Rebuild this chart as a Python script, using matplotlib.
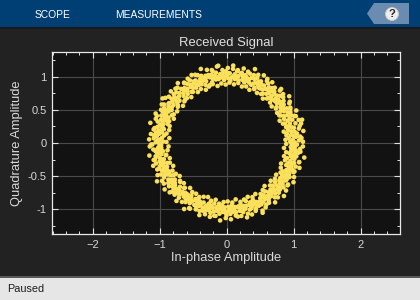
import numpy as np
import matplotlib
matplotlib.use("Agg")
import matplotlib.pyplot as plt
from matplotlib.patches import Rectangle, Polygon, Ellipse
from matplotlib.ticker import MultipleLocator

# ---- data (phase in degrees, magnitude) ----
# core of the ring
phase_deg = [
0.4, 1.3, 2.1, 2.8, 3.9, 4.6, 5.2, 6.3, 7.1, 7.8, 8.9, 9.5,
10.2, 11.4, 12.0, 12.9, 13.6, 14.8, 15.3, 16.1, 17.2, 17.9, 18.5, 19.7,
20.3, 21.2, 22.0, 22.9, 23.5, 24.6, 25.4, 26.1, 26.8, 27.9, 28.4, 29.3,
30.1, 31.0, 31.8, 32.5, 33.6, 34.2, 35.1, 35.9, 36.7, 37.4, 38.5, 39.2,
40.0, 40.9, 41.6, 42.4, 43.3, 44.0, 44.8, 45.7, 46.5, 47.3, 48.1, 49.0,
49.8, 50.6, 51.3, 52.2, 53.0, 53.9, 54.5, 55.4, 56.3, 57.1, 57.8, 58.7,
59.5, 60.2, 61.1, 61.9, 62.6, 63.5, 64.3, 65.0, 65.9, 66.7, 67.4, 68.3,
69.1, 69.8, 70.7, 71.5, 72.2, 73.1, 73.9, 74.6, 75.5, 76.2, 77.0, 77.9,
78.6, 79.4, 80.3, 81.0, 81.8, 82.7, 83.4, 84.2, 85.1, 85.8, 86.6, 87.5,
88.2, 89.0, 89.9, 90.6, 91.4, 92.3, 93.0, 93.8, 94.7, 95.4, 96.2, 97.1,
97.8, 98.6, 99.5, 100.2, 101.0, 101.9, 102.6, 103.4, 104.3, 105.0, 105.8, 106.7,
107.4, 108.2, 109.1, 109.8, 110.6, 111.5, 112.2, 113.0, 113.9, 114.6, 115.4, 116.3,
117.0, 117.8, 118.7, 119.4, 120.2, 121.1, 121.8, 122.6, 123.5, 124.2, 125.0, 125.9,
126.6, 127.4, 128.3, 129.0, 129.8, 130.7, 131.4, 132.2, 133.1, 133.8, 134.6, 135.5,
136.2, 137.0, 137.9, 138.6, 139.4, 140.3, 141.0, 141.8, 142.7, 143.4, 144.2, 145.1,
145.8, 146.6, 147.5, 148.2, 149.0, 149.9, 150.6, 151.4, 152.3, 153.0, 153.8, 154.7,
155.4, 156.2, 157.1, 157.8, 158.6, 159.5, 160.2, 161.0, 161.9, 162.6, 163.4, 164.3,
165.0, 165.8, 166.7, 167.4, 168.2, 169.1, 169.8, 170.6, 171.5, 172.2, 173.0, 173.9,
174.6, 175.4, 176.3, 177.0, 177.8, 178.7, 179.4, 180.2, 181.1, 181.8, 182.6, 183.5,
184.2, 185.0, 185.9, 186.6, 187.4, 188.3, 189.0, 189.8, 190.7, 191.4, 192.2, 193.1,
193.8, 194.6, 195.5, 196.2, 197.0, 197.9, 198.6, 199.4, 200.3, 201.0, 201.8, 202.7,
203.4, 204.2, 205.1, 205.8, 206.6, 207.5, 208.2, 209.0, 209.9, 210.6, 211.4, 212.3,
213.0, 213.8, 214.7, 215.4, 216.2, 217.1, 217.8, 218.6, 219.5, 220.2, 221.0, 221.9,
222.6, 223.4, 224.3, 225.0, 225.8, 226.7, 227.4, 228.2, 229.1, 229.8, 230.6, 231.5,
232.2, 233.0, 233.9, 234.6, 235.4, 236.3, 237.0, 237.8, 238.7, 239.4, 240.2, 241.1,
241.8, 242.6, 243.5, 244.2, 245.0, 245.9, 246.6, 247.4, 248.3, 249.0, 249.8, 250.7,
251.4, 252.2, 253.1, 253.8, 254.6, 255.5, 256.2, 257.0, 257.9, 258.6, 259.4, 260.3,
261.0, 261.8, 262.7, 263.4, 264.2, 265.1, 265.8, 266.6, 267.5, 268.2, 269.0, 269.9,
270.6, 271.4, 272.3, 273.0, 273.8, 274.7, 275.4, 276.2, 277.1, 277.8, 278.6, 279.5,
280.2, 281.0, 281.9, 282.6, 283.4, 284.3, 285.0, 285.8, 286.7, 287.4, 288.2, 289.1,
289.8, 290.6, 291.5, 292.2, 293.0, 293.9, 294.6, 295.4, 296.3, 297.0, 297.8, 298.7,
299.4, 300.2, 301.1, 301.8, 302.6, 303.5, 304.2, 305.0, 305.9, 306.6, 307.4, 308.3,
309.0, 309.8, 310.7, 311.4, 312.2, 313.1, 313.8, 314.6, 315.5, 316.2, 317.0, 317.9,
318.6, 319.4, 320.3, 321.0, 321.8, 322.7, 323.4, 324.2, 325.1, 325.8, 326.6, 327.5,
328.2, 329.0, 329.9, 330.6, 331.4, 332.3, 333.0, 333.8, 334.7, 335.4, 336.2, 337.1,
337.8, 338.6, 339.5, 340.2, 341.0, 341.9, 342.6, 343.4, 344.3, 345.0, 345.8, 346.7,
347.4, 348.2, 349.1, 349.8, 350.6, 351.5, 352.2, 353.0, 353.9, 354.6, 355.4, 356.3,
357.0, 357.8, 358.7, 359.4]

magnitude = [
1.02, 0.95, 1.08, 0.99, 1.12, 0.93, 1.04, 1.00, 0.97, 1.06, 0.91, 1.03,
0.98, 1.10, 0.94, 1.03, 1.00, 1.15, 0.96, 1.07, 0.99, 1.13, 0.92, 1.04,
0.97, 1.01, 1.09, 0.93, 1.05, 1.00, 0.95, 1.06, 1.02, 0.89, 1.08, 0.98,
1.04, 0.94, 1.00, 1.11, 0.97, 1.03, 0.99, 0.92, 1.06, 1.01, 0.96, 1.09,
1.01, 0.96, 1.07, 0.99, 1.04, 0.94, 1.12, 1.02, 0.97, 1.05, 0.90, 1.03,
0.98, 1.07, 0.95, 1.01, 1.05, 0.92, 1.00, 1.09, 0.97, 1.03, 1.14, 0.96,
1.02, 0.96, 1.06, 0.99, 1.04, 0.93, 1.01, 1.08, 0.98, 1.05, 0.95, 1.10,
1.05, 0.97, 1.02, 1.10, 0.99, 1.03, 0.95, 1.06, 1.01, 0.98, 1.04, 1.08,
1.07, 0.96, 1.02, 1.00, 1.09, 0.97, 1.04, 1.01, 1.12, 0.99, 0.94, 1.05,
1.05, 0.98, 1.03, 1.08, 1.00, 0.95, 1.06, 1.02, 0.99, 1.04, 1.17, 0.97,
1.00, 1.07, 0.97, 1.03, 1.10, 0.99, 1.05, 0.94, 1.02, 1.06, 0.91, 1.04,
1.06, 0.98, 1.03, 0.93, 1.08, 1.00, 1.04, 0.96, 1.01, 1.13, 0.97, 1.05,
0.99, 1.05, 0.95, 1.02, 1.09, 0.97, 1.03, 1.00, 1.07, 0.93, 1.11, 1.01,
0.98, 1.04, 0.94, 1.01, 1.06, 0.99, 1.11, 0.96, 1.03, 0.90, 1.07, 1.00,
1.00, 1.08, 0.95, 1.04, 1.01, 0.97, 1.06, 0.93, 1.02, 1.14, 0.98, 1.05,
1.05, 0.98, 1.03, 1.10, 0.96, 1.01, 1.07, 0.99, 1.04, 0.92, 1.06, 1.00,
1.02, 0.95, 1.06, 1.00, 1.12, 0.97, 1.04, 1.01, 0.93, 1.08, 0.99, 1.03,
1.03, 0.99, 1.06, 0.96, 1.10, 1.01, 1.04, 0.98, 1.07, 1.02, 0.94, 1.09,
1.05, 0.97, 1.09, 1.00, 1.03, 0.95, 1.06, 1.01, 1.11, 0.98, 1.15, 1.02,
0.98, 1.04, 1.00, 1.07, 0.96, 1.02, 1.05, 0.99, 1.08, 0.93, 1.03, 1.10,
1.01, 0.97, 1.04, 1.10, 0.99, 1.03, 0.94, 1.06, 1.00, 1.08, 0.96, 1.02,
1.05, 0.98, 1.02, 1.09, 0.96, 1.04, 1.00, 1.07, 0.97, 1.12, 0.93, 1.03,
1.03, 0.99, 1.06, 0.95, 1.01, 1.08, 0.98, 1.04, 1.00, 0.91, 1.05, 1.10,
1.02, 0.96, 1.07, 1.00, 1.04, 0.93, 1.05, 0.99, 1.09, 1.01, 0.97, 1.03,
1.01, 0.97, 1.04, 1.00, 1.08, 0.95, 1.03, 0.99, 1.06, 1.02, 1.13, 0.96,
0.98, 1.05, 0.94, 1.01, 1.07, 0.97, 1.03, 1.00, 1.10, 0.96, 1.04, 1.08,
1.02, 0.99, 1.06, 0.95, 1.01, 1.04, 0.97, 1.08, 1.00, 0.93, 1.05, 1.11,
0.98, 1.03, 0.96, 1.01, 1.07, 0.99, 0.94, 1.04, 1.00, 0.97, 1.05, 1.09,
1.03, 0.96, 1.01, 1.07, 0.99, 0.94, 1.04, 1.00, 0.97, 1.05, 1.12, 0.98,
0.97, 1.04, 1.00, 0.95, 1.07, 1.01, 0.98, 1.03, 1.11, 0.99, 0.92, 1.06,
0.99, 1.05, 0.96, 1.02, 1.00, 1.08, 0.94, 1.03, 0.99, 1.06, 1.15, 1.01,
1.06, 1.01, 0.97, 1.04, 1.10, 0.98, 1.02, 0.95, 1.07, 1.00, 1.04, 0.93,
1.00, 1.04, 0.97, 1.09, 1.01, 0.96, 1.05, 1.02, 0.99, 1.08, 0.94, 1.03,
1.06, 0.98, 1.03, 0.93, 1.08, 1.00, 1.04, 0.97, 1.02, 1.11, 0.96, 1.05,
0.99, 1.05, 0.96, 1.02, 1.07, 1.00, 0.94, 1.04, 1.01, 0.98, 1.09, 1.03,
1.06, 1.00, 0.95, 1.03, 1.09, 0.97, 1.02, 1.05, 0.99, 1.12, 0.93, 1.04,
1.01, 0.98, 1.06, 1.00, 0.95, 1.03, 1.08, 0.97, 1.04, 1.00, 1.10, 0.96,
1.02, 0.99, 1.05, 0.97]

# scattered points on the inner and outer edges of the ring
phase_edge_deg = [
1.0, 3.2, 5.1, 7.4, 9.0, 11.3, 13.2, 15.0, 17.3, 19.1, 21.4, 23.0, 25.2, 27.1, 29.3, 31.0, 33.4, 35.2, 37.0, 39.3,
41.1, 43.2, 45.0, 47.4, 49.2, 51.0, 53.3, 55.1, 57.2, 59.0, 61.4, 63.1, 65.3, 67.0, 69.2, 71.1, 73.4, 75.0, 77.2, 79.1,
81.3, 83.0, 85.2, 87.4, 89.1, 91.0, 93.3, 95.1, 97.2, 99.0, 101.4, 103.2, 105.0, 107.3, 109.1, 111.2, 113.0, 115.4, 117.1, 119.3,
121.0, 123.2, 125.1, 127.4, 129.0, 131.3, 133.1, 135.2, 137.0, 139.4, 141.1, 143.3, 145.0, 147.2, 149.1, 151.4, 153.0, 155.2, 157.3, 159.1,
161.0, 163.3, 165.1, 167.2, 169.4, 171.0, 173.2, 175.1, 177.3, 179.0, 181.2, 183.4, 185.1, 187.0, 189.3, 191.1, 193.2, 195.0, 197.4, 199.2,
201.0, 203.3, 205.1, 207.2, 209.0, 211.4, 213.1, 215.3, 217.0, 219.2, 221.1, 223.4, 225.0, 227.2, 229.3, 231.1, 233.0, 235.2, 237.4, 239.1,
241.0, 243.3, 245.2, 247.0, 249.4, 251.1, 253.2, 255.0, 257.3, 259.1, 261.4, 263.0, 265.2, 267.1, 269.3, 271.0, 273.2, 275.4, 277.1, 279.0,
281.3, 283.1, 285.2, 287.0, 289.4, 291.2, 293.0, 295.3, 297.1, 299.2, 301.0, 303.4, 305.1, 307.3, 309.0, 311.2, 313.1, 315.4, 317.0, 319.2,
321.1, 323.3, 325.0, 327.2, 329.4, 331.1, 333.0, 335.3, 337.1, 339.2, 341.0, 343.4, 345.2, 347.0, 349.3, 351.1, 353.2, 355.0, 357.4, 359.1]

magnitude_edge = [
1.14, 0.88, 1.10, 0.90, 1.16, 0.87, 1.12, 0.92, 1.18, 0.89, 1.11, 0.86, 1.15, 0.91, 1.09, 0.88, 1.13, 0.90, 1.17, 0.87,
1.12, 0.89, 1.15, 0.92, 1.10, 0.86, 1.14, 0.90, 1.11, 0.88, 1.16, 0.91, 1.13, 0.87, 1.19, 0.90, 1.12, 0.88, 1.15, 0.92,
1.11, 0.89, 1.17, 0.91, 1.13, 0.88, 1.10, 0.90, 1.16, 0.87, 1.12, 0.91, 1.14, 0.89, 1.18, 0.86, 1.11, 0.90, 1.15, 0.88,
1.13, 0.92, 1.10, 0.87, 1.16, 0.90, 1.12, 0.89, 1.14, 0.86, 1.11, 0.91, 1.17, 0.88, 1.13, 0.90, 1.10, 0.87, 1.15, 0.92,
1.12, 0.89, 1.18, 0.88, 1.11, 0.91, 1.14, 0.86, 1.16, 0.90, 1.13, 0.87, 1.10, 0.89, 1.17, 0.92, 1.12, 0.88, 1.15, 0.90,
1.11, 0.87, 1.14, 0.91, 1.19, 0.89, 1.12, 0.86, 1.16, 0.90, 1.13, 0.88, 1.10, 0.92, 1.15, 0.87, 1.11, 0.90, 1.18, 0.89,
1.13, 0.91, 1.10, 0.88, 1.16, 0.86, 1.12, 0.90, 1.14, 0.87, 1.11, 0.92, 1.17, 0.89, 1.13, 0.88, 1.15, 0.90, 1.10, 0.86,
1.12, 0.91, 1.16, 0.89, 1.14, 0.87, 1.11, 0.90, 1.18, 0.88, 1.13, 0.92, 1.10, 0.89, 1.15, 0.86, 1.12, 0.91, 1.17, 0.87,
1.14, 0.90, 1.11, 0.88, 1.16, 0.92, 1.13, 0.89, 1.10, 0.87, 1.15, 0.91, 1.12, 0.88, 1.18, 0.90, 1.11, 0.86, 1.14, 0.89]

title_text = "Received Signal"
xlabel_text = "In-phase Amplitude"
ylabel_text = "Quadrature Amplitude"
xticks = [-2, -1, 0, 1, 2]
yticks = [-1, -0.5, 0, 0.5, 1]
ytick_labels = ["-1", "-0.5", "0", "0.5", "1"]
toolbar_tabs = ["SCOPE", "MEASUREMENTS"]
status_text = "Paused"

def to_iq(ph, mg):
    n = min(len(ph), len(mg))
    th = np.deg2rad(np.array(ph[:n]))
    m = np.array(mg[:n])
    return m * np.cos(th), m * np.sin(th)

i_core, q_core = to_iq(phase_deg, magnitude)
i_edge, q_edge = to_iq(phase_edge_deg, magnitude_edge)
in_phase = np.concatenate([i_edge, i_core])
quadrature = np.concatenate([q_edge, q_core])

W, H = 420, 300
fig = plt.figure(figsize=(W / 100, H / 100), dpi=100, facecolor="#222222")
font = ["Liberation Sans", "DejaVu Sans"]

def px_rect(x0, y0, x1, y1, color, z=0):
    fig.patches.append(Rectangle((x0 / W, 1 - y1 / H), (x1 - x0) / W, (y1 - y0) / H,
                                 transform=fig.transFigure, facecolor=color,
                                 edgecolor="none", zorder=z))

# toolbar
px_rect(0, 0, 420, 27, "#003F73")
px_rect(0, 27, 420, 29, "#1A1A1A")
fig.text(53 / W, 1 - 15 / H, toolbar_tabs[0], color="white", fontsize=7.4,
         ha="center", va="center", family=font)
fig.text(159 / W, 1 - 15 / H, toolbar_tabs[1], color="white", fontsize=7.4,
         ha="center", va="center", family=font)
tab = [(367, 13.5), (374, 3), (409, 3), (409, 24), (374, 24)]
fig.patches.append(Polygon([(x / W, 1 - y / H) for x, y in tab], closed=True,
                           transform=fig.transFigure, facecolor="#6A8CB0",
                           edgecolor="none"))
fig.patches.append(Ellipse((392 / W, 1 - 14 / H), 13 / W, 13 / H,
                   transform=fig.transFigure, facecolor="#EDEDED",
                   edgecolor="#C8C8C8", lw=0.6))
fig.text(392 / W, 1 - 14.3 / H, "?", color="#2A2A2A", fontsize=8, fontweight="bold",
         ha="center", va="center", family=font)

# status bar
px_rect(0, 276, 420, 277.5, "#5A5A5A")
px_rect(0, 277.5, 420, 300, "#E6E6E6")
fig.text(7 / W, 1 - 289 / H, status_text, color="#1E1E1E", fontsize=7.8,
         ha="left", va="center", family=font)

# axes
ax = fig.add_axes([52 / W, 1 - 234 / H, 348 / W, 182 / H])
ax.set_facecolor("#121212")
ax.scatter(in_phase, quadrature, s=11, color="#FBE05C", edgecolors="none", zorder=3)
ax.set_xlim(-2.61, 2.59)
ax.set_ylim(-1.37, 1.37)
ax.set_xticks(xticks)
ax.set_yticks(yticks)
ax.set_yticklabels(ytick_labels)
ax.xaxis.set_minor_locator(MultipleLocator(0.2))
ax.yaxis.set_minor_locator(MultipleLocator(0.25))
ax.grid(True, which="major", color="#4A4A4A", lw=0.8, zorder=1)
ax.set_axisbelow(True)
ax.tick_params(which="both", direction="in", top=True, right=True,
               colors="#E0E0E0", labelcolor="#D8D8D8", labelsize=8)
ax.tick_params(which="major", length=4, width=0.8, pad=4)
ax.tick_params(which="minor", length=2.2, width=0.7)
for lab in ax.get_xticklabels() + ax.get_yticklabels():
    lab.set_family(font)
for sp in ax.spines.values():
    sp.set_color("#E8E8E8")
    sp.set_linewidth(0.9)
ax.set_title(title_text, color="#E0E0E0", fontsize=9.4, family=font, pad=4)
ax.set_xlabel(xlabel_text, color="#DADADA", fontsize=9.3, family=font, labelpad=2)
ax.set_ylabel(ylabel_text, color="#DADADA", fontsize=9.3, family=font, labelpad=3)

fig.savefig("out.png", dpi=100, facecolor=fig.get_facecolor())
